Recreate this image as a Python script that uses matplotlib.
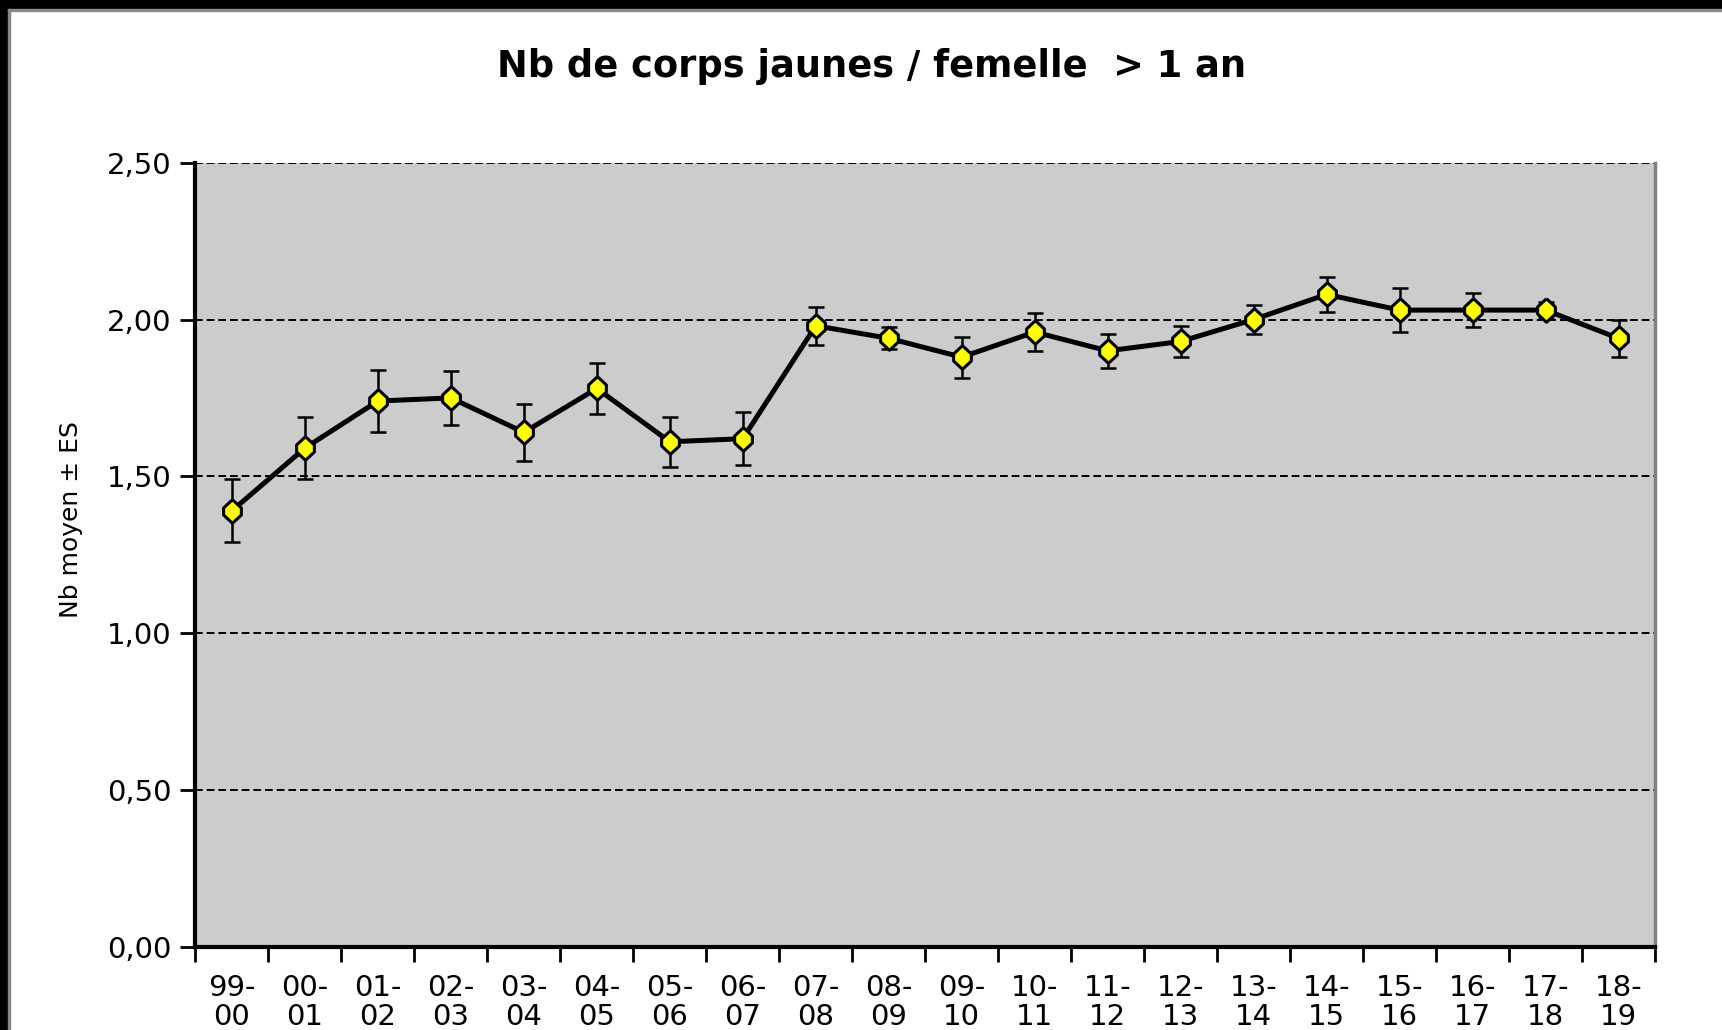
import matplotlib.pyplot as plt
from matplotlib.patches import Rectangle
from matplotlib.ticker import FixedLocator, NullFormatter

seasons = ['99-\n00', '00-\n01', '01-\n02', '02-\n03', '03-\n04', '04-\n05', '05-\n06',
           '06-\n07', '07-\n08', '08-\n09', '09-\n10', '10-\n11', '11-\n12', '12-\n13',
           '13-\n14', '14-\n15', '15-\n16', '16-\n17', '17-\n18', '18-\n19']
mean = [1.39, 1.59, 1.74, 1.75, 1.64, 1.78, 1.61, 1.62, 1.98, 1.94,
        1.88, 1.96, 1.90, 1.93, 2.00, 2.08, 2.03, 2.03, 2.03, 1.94]
es = [0.10, 0.10, 0.10, 0.085, 0.09, 0.08, 0.08, 0.085, 0.06, 0.035,
      0.065, 0.06, 0.055, 0.05, 0.045, 0.055, 0.07, 0.055, 0.025, 0.06]
yticks = [0.0, 0.5, 1.0, 1.5, 2.0, 2.5]

plt.rcParams['font.family'] = ['DejaVu Sans']

fig = plt.figure(figsize=(17.22, 10.30), dpi=100)
ax = fig.add_axes([0.1135, 0.081, 0.9611 - 0.1135, 0.842 - 0.081])
ax.set_facecolor('#cccccc')

x = list(range(len(mean)))
# marqueur type Excel (losange aplati)
shape = [(0, 1), (0.75, 0.3), (0.75, -0.3), (0, -1), (-0.75, -0.3), (-0.75, 0.3), (0, 1)]
ax.errorbar(x, mean, yerr=es, fmt='none', ecolor='black', elinewidth=1.8,
            capsize=6, capthick=1.8, zorder=3)
ax.plot(x, mean, color='black', lw=3.6, marker=shape, markersize=17,
        markerfacecolor='#ffff00', markeredgecolor='black', markeredgewidth=2.2, zorder=4)

ax.set_xlim(-0.5, len(mean) - 0.5)
ax.set_ylim(0, 2.5)
ax.set_yticks(yticks)
ax.set_yticklabels([('%.2f' % v).replace('.', ',') for v in yticks], fontsize=21)
ax.set_xticks(x)
ax.set_xticklabels(seasons, fontsize=21, linespacing=1.05)
ax.tick_params(axis='x', length=0, pad=20)
ax.xaxis.set_minor_locator(FixedLocator([i - 0.5 for i in range(len(mean) + 1)]))
ax.xaxis.set_minor_formatter(NullFormatter())
ax.tick_params(axis='x', which='minor', length=11, width=2, direction='out')
ax.tick_params(axis='y', length=11, width=2, direction='out', pad=6)

ax.grid(axis='y', color='black', linestyle=(0, (4, 2)), lw=1.4)
ax.set_axisbelow(True)
for s in ['left', 'bottom']:
    ax.spines[s].set_linewidth(3)
    ax.spines[s].set_color('black')
ax.spines['top'].set_visible(False)
ax.spines['right'].set_color('#808080')
ax.spines['right'].set_linewidth(2.5)

ax.set_ylabel('Nb moyen ± ES', fontsize=18)
ax.yaxis.set_label_coords(-0.077, 0.545)
fig.text(0.506, 0.935, 'Nb de corps jaunes / femelle  > 1 an',
         ha='center', va='center', fontsize=26.5, fontweight='bold')

# cadre noir en haut et a gauche
fig.patches.append(Rectangle((0, 1 - 9 / 1030), 1, 9 / 1030, transform=fig.transFigure,
                             color='black', zorder=10))
fig.patches.append(Rectangle((0, 0), 8 / 1722, 1, transform=fig.transFigure,
                             color='black', zorder=10))
fig.patches.append(Rectangle((8 / 1722, 0), 2 / 1722, 1 - 9 / 1030, transform=fig.transFigure,
                             color='#888888', zorder=10))
fig.patches.append(Rectangle((8 / 1722, 1 - 11 / 1030), 1, 2 / 1030, transform=fig.transFigure,
                             color='#888888', zorder=10))

fig.savefig('out.png', dpi=100)
